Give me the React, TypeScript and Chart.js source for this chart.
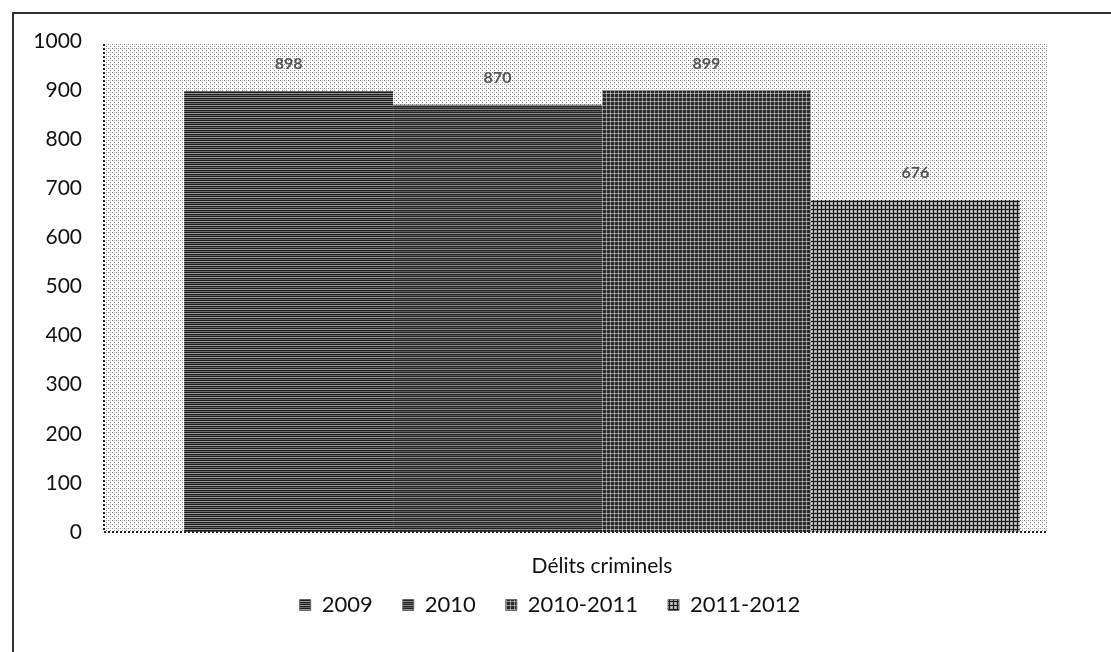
import React, { useEffect, useRef } from "react";
import { Chart, registerables } from "chart.js";

Chart.register(...registerables);

const categories = ["Délits criminels"];
const seriesNames = ["2009", "2010", "2010-2011", "2011-2012"];
const seriesValues = [898, 870, 899, 676];
const yTicks = [0, 100, 200, 300, 400, 500, 600, 700, 800, 900, 1000];

const FONT = "Lato, 'Open Sans', sans-serif";
// share of the x range covered by the shaded plot panel
const PANEL_SHARE = 0.9468;

function makePattern(size: number, draw: (c: CanvasRenderingContext2D) => void): CanvasPattern | string {
  const off = document.createElement("canvas");
  off.width = size;
  off.height = size;
  const c = off.getContext("2d");
  if (!c) return "#888";
  draw(c);
  const ctx = document.createElement("canvas").getContext("2d");
  const p = ctx ? ctx.createPattern(off, "repeat") : null;
  return p || "#888";
}

function buildPatterns() {
  // light dotted plot background
  const plotBg = makePattern(4, (c) => {
    c.fillStyle = "#ffffff";
    c.fillRect(0, 0, 4, 4);
    c.fillStyle = "#8a8a8a";
    c.fillRect(0, 0, 1, 1);
    c.fillRect(2, 2, 1, 1);
    c.fillStyle = "#c8c8c8";
    c.fillRect(2, 0, 1, 1);
  });
  // horizontal dark stripes
  const stripes1 = makePattern(4, (c) => {
    c.fillStyle = "#1e1e1e";
    c.fillRect(0, 0, 4, 4);
    c.fillStyle = "#9a9a9a";
    c.fillRect(0, 1, 4, 1);
    c.fillStyle = "#6a6a6a";
    c.fillRect(0, 3, 4, 1);
  });
  const stripes2 = makePattern(4, (c) => {
    c.fillStyle = "#252525";
    c.fillRect(0, 0, 4, 4);
    c.fillStyle = "#8c8c8c";
    c.fillRect(0, 1, 4, 1);
    c.fillStyle = "#5a5a5a";
    c.fillRect(0, 3, 4, 1);
  });
  // dark grid
  const grid3 = makePattern(4, (c) => {
    c.fillStyle = "#2a2a2a";
    c.fillRect(0, 0, 4, 4);
    c.fillStyle = "#8f8f8f";
    c.fillRect(0, 1, 4, 1);
    c.fillRect(2, 0, 1, 4);
    c.fillStyle = "#c0c0c0";
    c.fillRect(2, 1, 1, 1);
  });
  // medium grey crosses
  const grid4 = makePattern(4, (c) => {
    c.fillStyle = "#a8a8a8";
    c.fillRect(0, 0, 4, 4);
    c.fillStyle = "#1a1a1a";
    c.fillRect(1, 0, 1, 4);
    c.fillRect(0, 1, 4, 1);
    c.fillStyle = "#d8d8d8";
    c.fillRect(3, 3, 1, 1);
  });
  return { plotBg, bars: [stripes1, stripes2, grid3, grid4] };
}

export default function App() {
  const canvasRef = useRef<HTMLCanvasElement | null>(null);

  useEffect(() => {
    const canvas = canvasRef.current;
    if (!canvas) return;
    const pats = buildPatterns();

    const plotPanel = {
      id: "plotPanel",
      beforeDraw(chart: any) {
        const { ctx, chartArea } = chart;
        const w = (chartArea.right - chartArea.left) * PANEL_SHARE;
        ctx.save();
        ctx.fillStyle = pats.plotBg;
        ctx.fillRect(chartArea.left, chartArea.top + 3, w, chartArea.bottom - chartArea.top - 3);
        ctx.restore();
      },
      afterDatasetsDraw(chart: any) {
        const { ctx, chartArea } = chart;
        const w = (chartArea.right - chartArea.left) * PANEL_SHARE;
        ctx.save();
        ctx.strokeStyle = "#222";
        ctx.lineWidth = 2;
        ctx.setLineDash([2, 2]);
        ctx.beginPath();
        ctx.moveTo(chartArea.left, chartArea.top + 3);
        ctx.lineTo(chartArea.left, chartArea.bottom);
        ctx.lineTo(chartArea.left + w, chartArea.bottom);
        ctx.stroke();
        ctx.restore();
      },
    };

    // category name under the axis, placed at the category's tick
    const categoryLabel = {
      id: "categoryLabel",
      afterDraw(chart: any) {
        const { ctx, chartArea } = chart;
        const xScale = chart.scales.x;
        ctx.save();
        ctx.font = `21px ${FONT}`;
        ctx.fillStyle = "#111";
        ctx.textAlign = "center";
        ctx.textBaseline = "middle";
        chart.data.labels.forEach((label: string, i: number) => {
          ctx.fillText(label, xScale.getPixelForTick(i), chartArea.bottom + 34);
        });
        ctx.restore();
      },
    };

    const valueLabels = {
      id: "valueLabels",
      afterDatasetsDraw(chart: any) {
        const { ctx } = chart;
        ctx.save();
        ctx.font = `bold 16px ${FONT}`;
        ctx.fillStyle = "#555";
        ctx.textAlign = "center";
        ctx.textBaseline = "middle";
        chart.data.datasets.forEach((ds: any, i: number) => {
          const meta = chart.getDatasetMeta(i);
          meta.data.forEach((bar: any, j: number) => {
            ctx.fillText(String(ds.data[j]), bar.x, bar.y - 27);
          });
        });
        ctx.restore();
      },
    };

    const chart = new Chart(canvas, {
      type: "bar",
      data: {
        labels: categories,
        datasets: seriesNames.map((name, i) => ({
          label: name,
          data: [seriesValues[i]],
          backgroundColor: pats.bars[i] as any,
          borderWidth: 0,
          barPercentage: 1,
          categoryPercentage: 0.839,
        })),
      },
      options: {
        animation: false,
        responsive: false,
        maintainAspectRatio: false,
        layout: { padding: { left: 0, right: 11, top: 41, bottom: 26 } },
        plugins: {
          tooltip: { enabled: false },
          legend: {
            position: "bottom",
            labels: {
              font: { family: FONT, size: 22 },
              color: "#111",
              boxWidth: 11,
              boxHeight: 11,
              padding: 30,
              generateLabels(chart: any) {
                return chart.data.datasets.map((ds: any, i: number) => ({
                  text: ds.label,
                  fillStyle: ds.backgroundColor,
                  strokeStyle: "#666",
                  lineWidth: 1,
                  hidden: false,
                  datasetIndex: i,
                  fontColor: "#111",
                }));
              },
            },
          },
        },
        scales: {
          x: {
            grid: { display: false, drawTicks: false },
            border: { display: false },
            ticks: { display: false },
            afterFit(scale: any) {
              scale.height = 32;
            },
          },
          y: {
            min: 0,
            max: 1000,
            afterBuildTicks(scale: any) {
              scale.ticks = yTicks.map((v) => ({ value: v }));
            },
            grid: { display: false, drawTicks: false },
            border: { display: false },
            ticks: {
              font: { family: FONT, size: 21 },
              color: "#111",
              padding: 22,
              callback: (v: any) => String(v),
            },
            afterFit(scale: any) {
              scale.width = 104;
            },
          },
        },
      },
      plugins: [plotPanel, valueLabels, categoryLabel],
    } as any);

    return () => chart.destroy();
  }, []);

  return (
    <div style={{ position: "fixed", left: 0, top: 0, width: 1111, height: 652, background: "#fff" }}>
      <div
        style={{
          position: "absolute",
          left: 12,
          top: 12,
          width: 1120,
          height: 680,
          border: "2px solid #333",
          boxSizing: "border-box",
        }}
      />
      <canvas ref={canvasRef} width={1111} height={652} style={{ position: "absolute", left: 0, top: 0 }} />
    </div>
  );
}
